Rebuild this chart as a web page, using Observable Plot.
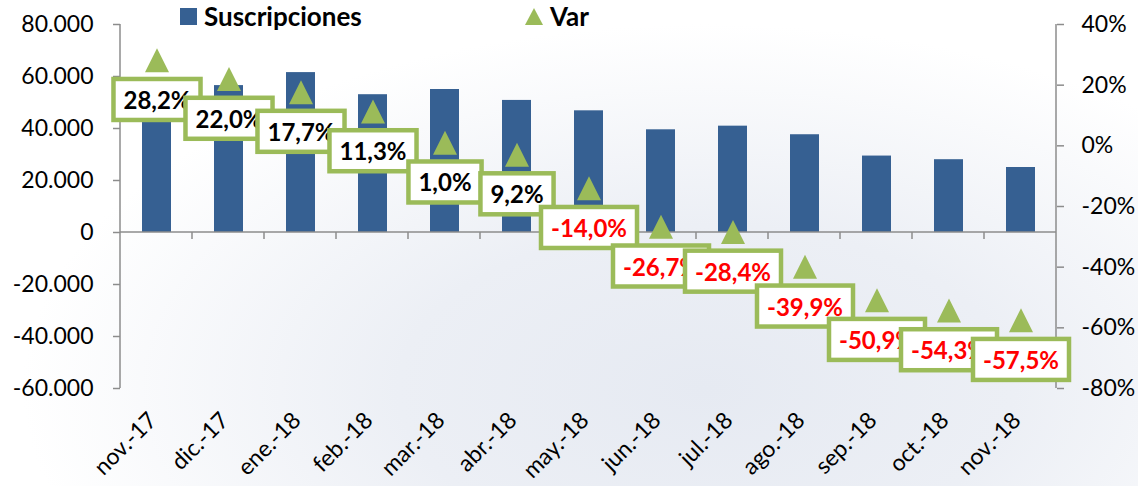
<!DOCTYPE html>
<html><head><meta charset="utf-8">
<script src="https://cdn.jsdelivr.net/npm/d3@7"></script>
<script src="https://cdn.jsdelivr.net/npm/@observablehq/plot@0.6"></script>
<style>
body{margin:0;background:#fff;font-family:Lato,sans-serif;}
#wrap{position:relative;width:1138px;height:486px;overflow:hidden;
 background: radial-gradient(ellipse 60% 75% at 62% 80%, #e6eaf2 0%, #eceff5 45%, #ffffff 100%);}
#legend{position:absolute;left:0;top:0;width:1138px;height:40px;font-family:Lato,sans-serif;font-weight:bold;font-size:26px;color:#000;}
.li{position:absolute;top:2px;display:flex;align-items:center;gap:7px;}
</style></head>
<body>
<div id="wrap">
  <div id="chart"></div>
  <div id="legend">
    <div class="li" style="left:180px;top:0px"><span style="display:inline-block;width:17px;height:17px;background:#366092"></span><span>Suscripciones</span></div>
    <div class="li" style="left:525px;top:0px"><svg width="18" height="17"><polygon points="9,0 18,17 0,17" fill="#9BBB59"/></svg><span>Var</span></div>
  </div>
</div>
<script>
const months = ["nov.-17","dic.-17","ene.-18","feb.-18","mar.-18","abr.-18","may.-18","jun.-18","jul.-18","ago.-18","sep.-18","oct.-18","nov.-18"];
const suscripciones = [58800, 56500, 61500, 53000, 55000, 50800, 46800, 39500, 40900, 37600, 29400, 28000, 25000];
const varPct = [28.2, 22.0, 17.7, 11.3, 1.0, -2.9, -14.0, -26.7, -28.4, -39.9, -50.9, -54.3, -57.5];
const varLabels = ["28,2%","22,0%","17,7%","11,3%","1,0%","9,2%","-14,0%","-26,7%","-28,4%","-39,9%","-50,9%","-54,3%","-57,5%"];
const leftTicks = [-60000,-40000,-20000,0,20000,40000,60000,80000];
const rightTicks = [-80,-60,-40,-20,0,20,40];

// map right axis (%) onto left axis units: 40% <-> 80000, -80% <-> -60000
const toLeft = v => v * 7000 / 6 + 100000 / 3;
const fromLeft = u => Math.round((u - 100000 / 3) * 6 / 7000);

const data = months.map((m, i) => ({month: m, subs: suscripciones[i], yv: toLeft(varPct[i]), label: varLabels[i], color: varLabels[i].startsWith("-") ? "#FF0000" : "#000000"}));

const fmtNum = d => (d < 0 ? "-" : "") + d3.format(",")(Math.abs(d)).replace(/,/g, ".");
const tri = {draw(ctx, size){ const h = Math.sqrt(size / Math.PI); ctx.moveTo(0, -h); ctx.lineTo(h, h); ctx.lineTo(-h, h); ctx.closePath(); }};

const axisLines = (index, scales, values, dims) => {
  const g = d3.create("svg:g").attr("stroke", "#8c8c8c").attr("stroke-width", 1.5).attr("fill", "none");
  const left = dims.marginLeft, right = dims.width - dims.marginRight;
  const top = dims.marginTop, bottom = dims.height - dims.marginBottom;
  const y0 = scales.y(0);
  const n = months.length, step = (right - left) / n;
  g.append("line").attr("x1", left).attr("x2", right).attr("y1", y0).attr("y2", y0);
  g.append("line").attr("x1", left).attr("x2", left).attr("y1", top).attr("y2", bottom);
  g.append("line").attr("x1", right).attr("x2", right).attr("y1", top).attr("y2", bottom);
  for (let i = 1; i < n; i++) {
    const bx = left + i * step;
    g.append("line").attr("x1", bx).attr("x2", bx).attr("y1", y0).attr("y2", y0 + 7);
  }
  return g.node();
};

const plot = Plot.plot({
  width: 1138, height: 486,
  marginLeft: 120, marginRight: 82, marginTop: 24, marginBottom: 98,
  style: {fontFamily: "Lato, sans-serif", fontSize: "23px", color: "#000", background: "transparent", overflow: "visible"},
  x: {type: "band", domain: months, paddingInner: 0.6, paddingOuter: 0.3, label: null},
  y: {domain: [-60000, 80000], label: null},
  marks: [
    Plot.barY(data, {x: "month", y: "subs", fill: "#366092"}),
    axisLines,
    Plot.axisY(leftTicks, {anchor: "left", tickFormat: fmtNum, tickSize: 7, tickPadding: 20, stroke: "#8c8c8c", strokeWidth: 1.5, label: null}),
    Plot.axisY(rightTicks.map(toLeft), {anchor: "right", tickFormat: d => fromLeft(d) + "%", tickSize: 7, tickPadding: 18, stroke: "#8c8c8c", strokeWidth: 1.5, label: null}),
    Plot.axisX({anchor: "bottom", tickSize: 0, tickPadding: 28, dx: -4, tickRotate: -45, label: null}),
    Plot.dot(data, {x: "month", y: "yv", symbol: tri, r: 12, fill: "#9BBB59"}),
    Plot.text(data, {x: "month", y: "yv", dy: 41, text: "label", fill: "color", fontWeight: "bold", fontSize: 24, className: "lbl"})
  ]
});
document.getElementById("chart").appendChild(plot);

// white boxes with green frame behind each value label
plot.querySelectorAll("g.lbl text").forEach(t => {
  const b = t.getBBox();
  const r = document.createElementNS("http://www.w3.org/2000/svg", "rect");
  r.setAttribute("x", b.x - 10); r.setAttribute("y", b.y - 6);
  r.setAttribute("width", b.width + 20); r.setAttribute("height", b.height + 12);
  r.setAttribute("fill", "#ffffff"); r.setAttribute("stroke", "#9BBB59"); r.setAttribute("stroke-width", 4.5);
  if (t.getAttribute("transform")) r.setAttribute("transform", t.getAttribute("transform"));
  t.parentNode.insertBefore(r, t);
});
</script>
</body></html>
